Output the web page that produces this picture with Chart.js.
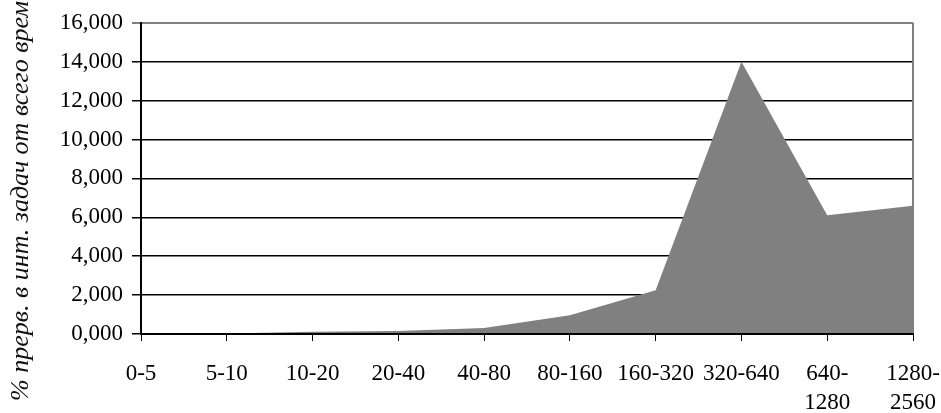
<!DOCTYPE html>
<html>
<head>
<meta charset="utf-8">
<script src="https://cdn.jsdelivr.net/npm/chart.js@4"></script>
<style>
  body { margin: 0; background: #fff; }
  canvas { display: block; }
</style>
</head>
<body>
<canvas id="chart" width="941" height="413"></canvas>
<script>
// интервалы (категории оси X)
const categories = ['0-5', '5-10', '10-20', '20-40', '40-80', '80-160', '160-320', '320-640', ['640-', '1280'], ['1280-', '2560']];
// % прерываний
const shares = [0.01, 0.02, 0.12, 0.15, 0.31, 0.97, 2.25, 14.0, 6.1, 6.6];
const yTicks = [0, 2, 4, 6, 8, 10, 12, 14, 16];
const yTitle = '% прерв. в инт. задач от всего врем';

const serif = 'Liberation Serif';

// rotated axis title, clipped at the top like in the original
const titlePlugin = {
    id: 'sideTitle',
    afterDraw(chart) {
        const ctx = chart.ctx;
        ctx.save();
        ctx.translate(28, 401);
        ctx.rotate(-Math.PI / 2);
        ctx.font = 'italic 26px "' + serif + '"';
        ctx.fillStyle = '#111';
        ctx.textAlign = 'left';
        ctx.textBaseline = 'alphabetic';
        ctx.fillText(yTitle, 0, 0);
        ctx.restore();
    }
};

// gray frame on the right side of plot area
const framePlugin = {
    id: 'frame',
    beforeDatasetsDraw(chart) {
        const a = chart.chartArea;
        const ctx = chart.ctx;
        ctx.save();
        ctx.strokeStyle = '#808080';
        ctx.lineWidth = 2;
        ctx.beginPath();
        ctx.moveTo(a.right, a.top);
        ctx.lineTo(a.right, a.bottom);
        ctx.stroke();
        ctx.restore();
    }
};

const ctx = document.getElementById('chart').getContext('2d');
new Chart(ctx, {
    type: 'line',
    data: {
        labels: categories,
        datasets: [{
            data: shares,
            fill: 'origin',
            backgroundColor: '#808080',
            borderColor: '#808080',
            borderWidth: 0,
            pointRadius: 0,
            tension: 0
        }]
    },
    options: {
        responsive: false,
        animation: false,
        devicePixelRatio: 1,
        layout: { padding: { left: 0, top: 20, right: 28, bottom: 0 } },
        plugins: {
            legend: { display: false },
            tooltip: { enabled: false }
        },
        scales: {
            x: {
                offset: false,
                afterFit: s => {
                    s.height = 79;
                    s.paddingLeft = 0;
                    s.paddingRight = 0;
                },
                grid: { drawOnChartArea: false, color: '#000', tickLength: 7, lineWidth: 1 },
                border: { color: '#000', width: 2, z: 1 },
                ticks: {
                    color: '#000',
                    padding: 18,
                    maxRotation: 0,
                    autoSkip: false,
                    font: { family: serif, size: 23, lineHeight: 1.26 }
                }
            },
            y: {
                min: 0,
                max: 16,
                afterFit: s => { s.width = 141; },
                afterBuildTicks: s => { s.ticks = yTicks.map(v => ({ value: v })); },
                grid: {
                    color: c => (c.tick && c.tick.value === 16 ? '#808080' : '#000'),
                    lineWidth: c => (c.tick && c.tick.value === 16 ? 2 : 1.5),
                    tickLength: 9
                },
                border: { color: '#000', width: 2 },
                ticks: {
                    color: '#000',
                    padding: 9,
                    font: { family: serif, size: 23 },
                    callback: v => v.toFixed(3).replace('.', ',')
                }
            }
        }
    },
    plugins: [framePlugin, titlePlugin]
});
</script>
</body>
</html>
